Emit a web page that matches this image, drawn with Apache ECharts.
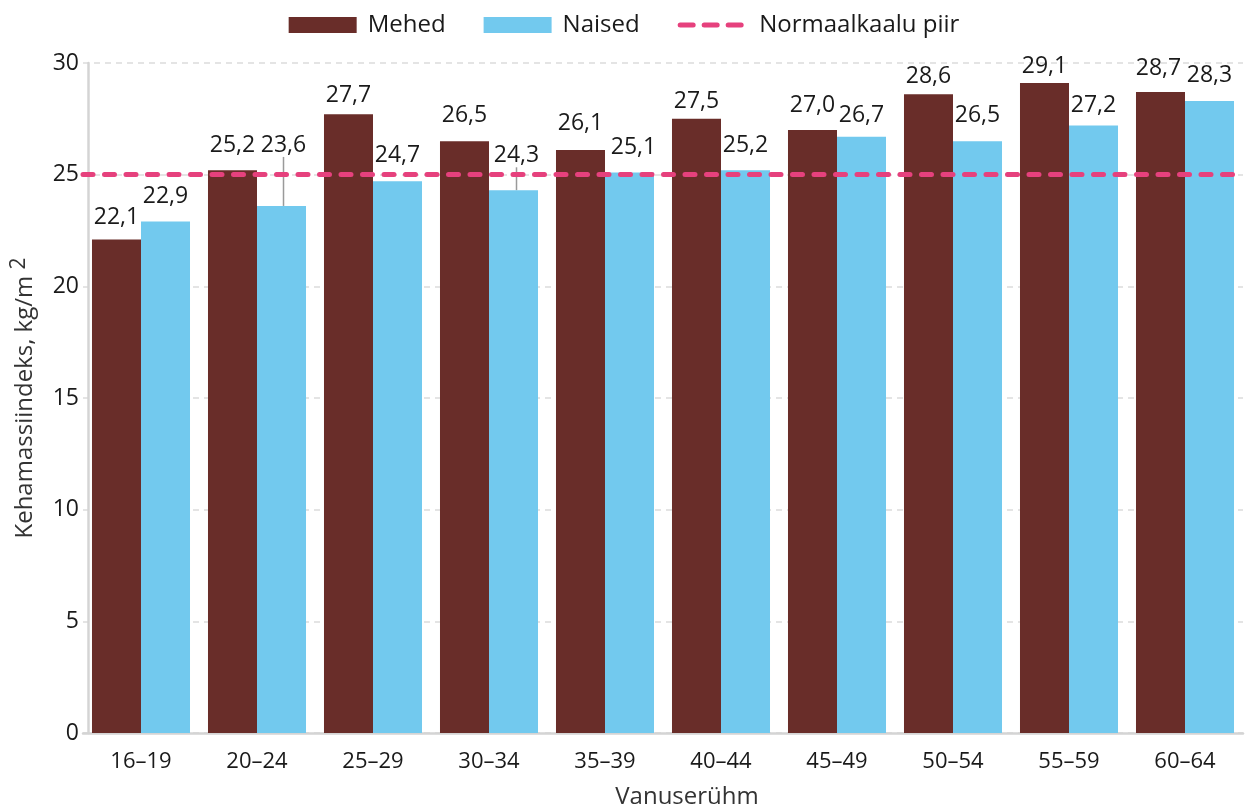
<!DOCTYPE html>
<html>
<head>
<meta charset="utf-8">
<script src="https://cdn.jsdelivr.net/npm/echarts@6/dist/echarts.min.js"></script>
<style>
  html, body { margin: 0; padding: 0; background: #fff; }
  #chart { width: 1248px; height: 810px; }
</style>
</head>
<body>
<div id="chart"></div>
<script>
// Body mass index by age group, men vs women
const ageGroups = ['16–19', '20–24', '25–29', '30–34', '35–39', '40–44', '45–49', '50–54', '55–59', '60–64'];
const men   = [22.1, 25.2, 27.7, 26.5, 26.1, 27.5, 27.0, 28.6, 29.1, 28.7];
const women = [22.9, 23.6, 24.7, 24.3, 25.1, 25.2, 26.7, 26.5, 27.2, 28.3];
const normalWeightLimit = 25;
const yTicks = [0, 5, 10, 15, 20, 25, 30];

const FONT = 'Open Sans';
const TEXT = '#1a1a1a';
const PINK = '#e6417d';

// Small nudges for value labels so neighbouring labels do not collide
const labelNudge = {
  0: { dy: [0, -3, 3, -4, -5, 4, -3, 4, 5, -2], dx: [0, 0, 0, 0, 0, 0, 0, 0, 0, -2] },
  1: { dy: [-4, -39, -4, -13, -3, -3, 0, -4, 1, -4], dx: [0, 2, 0, 3, 4, 0, 0, 0, 0, 0] }
};
// Labels pushed far enough away get a guide line back to their bar
const guided = { 1: [1, 3] };

function barData(values, seriesIdx) {
  const withLine = guided[seriesIdx] || [];
  return values.map((v, i) => withLine.includes(i)
    ? { value: v, labelLine: { show: true, lineStyle: { color: '#9a9a9a', width: 1.5 } } }
    : v);
}

const valueLabel = {
  show: true,
  position: 'top',
  distance: 10,
  fontFamily: FONT,
  fontSize: 23,
  color: TEXT,
  formatter: p => p.value.toFixed(1).replace('.', ',')
};

const chart = echarts.init(document.getElementById('chart'), null, { renderer: 'canvas' });

chart.setOption({
  animation: false,
  textStyle: { fontFamily: FONT },
  legend: {
    top: 8,
    left: 'center',
    itemWidth: 68,
    itemHeight: 16,
    itemGap: 38,
    textStyle: { fontFamily: FONT, fontSize: 24, color: TEXT, padding: [0, 0, 0, 6] },
    data: [
      { name: 'Mehed', icon: 'rect' },
      { name: 'Naised', icon: 'rect' },
      {
        name: 'Normaalkaalu piir',
        itemStyle: { opacity: 0 },
        lineStyle: { color: PINK, width: 5, type: [13, 11], cap: 'round' }
      }
    ]
  },
  grid: { left: 83, right: 5, top: 63, bottom: 77, containLabel: false, outerBoundsMode: 'none' },
  xAxis: {
    type: 'category',
    data: ageGroups,
    name: 'Vanuserühm',
    nameLocation: 'middle',
    nameGap: 52,
    nameTextStyle: { fontFamily: FONT, fontSize: 24, color: '#333', padding: [0, 0, 0, 48] },
    axisLine: { lineStyle: { color: '#d4d4d4', width: 2.5 } },
    axisTick: { show: false },
    axisLabel: { fontFamily: FONT, fontSize: 22, color: TEXT, margin: 18 }
  },
  yAxis: {
    type: 'value',
    min: yTicks[0],
    max: yTicks[yTicks.length - 1],
    interval: yTicks[1] - yTicks[0],
    offset: -5,
    name: 'Kehamassiindeks, kg/m {sup|2}',
    nameLocation: 'middle',
    nameGap: 46,
    nameRotate: 90,
    nameTextStyle: {
      fontFamily: FONT, fontSize: 24, color: '#333',
      rich: { sup: { fontFamily: FONT, fontSize: 21, color: '#333', padding: [0, 0, 12, 0] } }
    },
    axisLine: { show: true, lineStyle: { color: '#d4d4d4', width: 2.5 } },
    axisTick: { show: false },
    axisLabel: { fontFamily: FONT, fontSize: 23, color: TEXT, margin: 9 },
    splitLine: { lineStyle: { color: '#dcdcdc', width: 1.5, type: [6, 5] } }
  },
  series: [
    {
      name: 'Mehed',
      type: 'bar',
      data: barData(men, 0),
      barGap: '0%',
      barCategoryGap: '15.5%',
      itemStyle: { color: '#692d29' },
      label: valueLabel
    },
    {
      name: 'Naised',
      type: 'bar',
      data: barData(women, 1),
      barGap: '0%',
      barCategoryGap: '15.5%',
      itemStyle: { color: '#72c9ee' },
      label: valueLabel
    },
    {
      name: 'Normaalkaalu piir',
      type: 'line',
      data: [],
      symbol: 'none',
      itemStyle: { color: PINK },
      lineStyle: { color: PINK, width: 5, type: [10, 12], cap: 'round' },
      z: 5,
      markLine: {
        silent: true,
        symbol: 'none',
        label: { show: false },
        lineStyle: { color: PINK, width: 5, type: [10, 11.5], cap: 'round' },
        data: [{ yAxis: normalWeightLimit }]
      }
    }
  ],
  labelLayout: function (params) {
    const n = labelNudge[params.seriesIndex];
    if (!n) return {};
    return { dx: n.dx[params.dataIndex], dy: n.dy[params.dataIndex] };
  }
});
</script>
</body>
</html>
